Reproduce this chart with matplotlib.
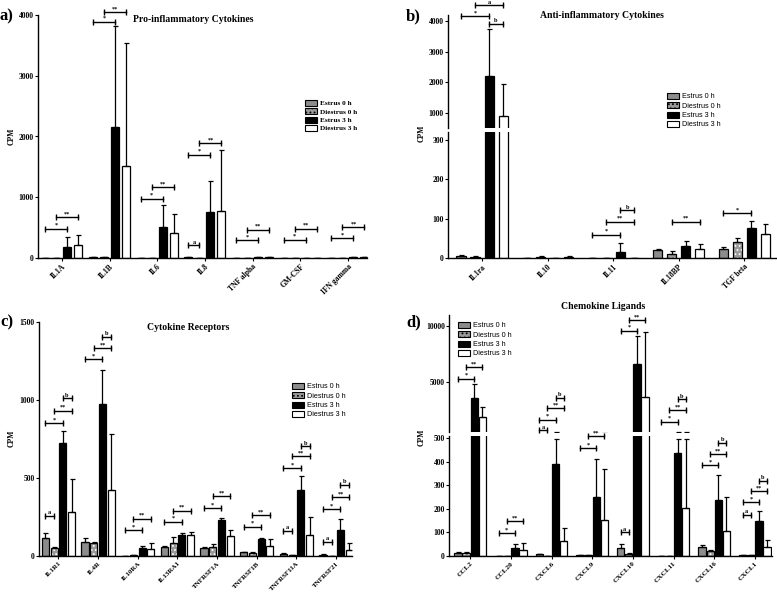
import matplotlib
matplotlib.use("Agg")
import matplotlib.pyplot as plt
from matplotlib.patches import Patch
import numpy as np

plt.rcParams['font.family'] = 'Liberation Serif'
plt.rcParams['font.weight'] = 'bold'
plt.rcParams['hatch.linewidth'] = 0.8

groups = ['Estrus 0 h', 'Diestrus 0 h', 'Estrus 3 h', 'Diestrus 3 h']

# a) Pro-inflammatory cytokines
a_genes = ['IL1A', 'IL1B', 'IL6', 'IL8', 'TNF alpha', 'GM-CSF', 'IFN gamma']
a_mean = [[5, 10, 0, 15, 0, 0, 0],
          [5, 10, 0, 0, 0, 0, 0],
          [181, 2160, 516, 758, 15, 6, 10],
          [209, 1516, 407, 780, 20, 6, 10]]
a_sd = [[0, 0, 0, 0, 0, 0, 0],
        [0, 0, 0, 0, 0, 0, 0],
        [165, 1660, 352, 506, 0, 0, 0],
        [176, 2028, 324, 1006, 0, 0, 0]]
a_sig = [(0, 0, 2, 484, '*'), (0, 1, 3, 670, '**'),
         (1, 0, 2, 3890, '*'), (1, 1, 3, 4050, '**'),
         (2, 0, 2, 978, '*'), (2, 1, 3, 1170, '**'),
         (3, 0, 1, 209, 'a'), (3, 0, 2, 1703, '*'), (3, 1, 3, 1885, '**'),
         (4, 0, 2, 291, '*'), (4, 1, 3, 467, '**'),
         (5, 0, 2, 302, '*'), (5, 1, 3, 484, '**'),
         (6, 0, 2, 324, '*'), (6, 1, 3, 505, '**')]

# b) Anti-inflammatory cytokines
b_genes = ['IL1ra', 'IL10', 'IL11', 'IL18BP', 'TGF beta']
b_mean = [[5, 1, 0, 20, 23],
          [3, 3, 0, 11, 41],
          [2197, 0.5, 15, 30, 75],
          [902, 3, 1, 22, 62]]
b_sd = [[2, 0, 0, 3, 5],
        [1, 1, 0, 7, 11],
        [1553, 0, 23, 12, 20],
        [1023, 1, 0, 14, 24]]
b_sig = [(0, 0, 2, 4160, '*'), (0, 1, 3, 4520, 'a'), (0, 2, 3, 3900, 'b'),
         (2, 0, 2, 59, '*'), (2, 1, 3, 92, '**'), (2, 2, 3, 121, 'b'),
         (3, 1, 3, 92, '**'),
         (4, 0, 2, 114, '*')]

# c) Cytokine receptors
c_genes = ['IL1R1', 'IL4R', 'IL10RA', 'IL13RA1', 'TNFRSF1A', 'TNFRSF1B',
           'TNFRSF11A', 'TNFRSF21']
c_mean = [[118, 92, 3, 60, 49, 24, 15, 8],
          [49, 81, 4, 81, 60, 21, 5, 3],
          [724, 974, 54, 133, 231, 111, 420, 167],
          [280, 426, 47, 135, 128, 66, 137, 36]]
c_sd = [[28, 26, 0, 6, 7, 4, 6, 2],
        [11, 9, 0, 39, 15, 3, 0, 0],
        [79, 221, 12, 17, 15, 7, 94, 73],
        [215, 358, 34, 21, 39, 41, 111, 45]]
c_sig = [(0, 0, 1, 257, 'a'), (0, 0, 2, 852, '*'), (0, 1, 3, 931, '**'), (0, 2, 3, 1011, 'b'),
         (1, 0, 2, 1263, '*'), (1, 1, 3, 1334, '**'), (1, 2, 3, 1405, 'b'),
         (2, 0, 2, 167, '*'), (2, 1, 3, 240, '**'),
         (3, 0, 2, 220, '*'), (3, 1, 3, 291, '**'),
         (4, 0, 2, 306, '*'), (4, 1, 3, 385, '**'),
         (5, 0, 2, 188, '*'), (5, 1, 3, 263, '**'),
         (6, 0, 1, 161, 'a'), (6, 0, 2, 563, '*'), (6, 1, 3, 638, '**'), (6, 2, 3, 702, 'b'),
         (7, 0, 1, 92, 'a'), (7, 0, 2, 300, '*'), (7, 1, 3, 377, '**'), (7, 2, 3, 456, 'b')]

# d) Chemokine ligands
d_genes = ['CCL2', 'CCL20', 'CXCL6', 'CXCL9', 'CXCL10', 'CXCL11', 'CXCL16', 'CXCL1']
d_mean = [[12, 0, 8, 5, 33, 0, 40, 5],
          [12, 0, 1, 5, 10, 0, 21, 3],
          [3580, 35, 392, 249, 6600, 436, 236, 147],
          [1805, 25, 62, 154, 3670, 205, 108, 40]]
d_sd = [[3, 0, 0, 0, 18, 0, 7, 0],
        [3, 0, 0, 0, 3, 0, 3, 0],
        [1240, 17, 106, 165, 2510, 62, 107, 44],
        [945, 30, 58, 216, 5830, 293, 143, 27]]
d_sig = [(0, 0, 2, 5300, '*'), (0, 1, 3, 6300, '**'),
         (1, 0, 2, 97, '*'), (1, 1, 3, 147, '**'),
         (2, 0, 1, 640, 'a'), (2, 0, 2, 1600, '*'), (2, 1, 3, 2630, '**'), (2, 2, 3, 3580, 'b'),
         (3, 0, 2, 459, '*'), (3, 1, 3, 510, '**'),
         (4, 0, 1, 100, 'a'), (4, 0, 2, 9590, '*'), (4, 1, 3, 10540, '**'),
         (5, 0, 2, 1420, '*'), (5, 1, 3, 2455, '**'), (5, 2, 3, 3430, 'b'),
         (6, 0, 2, 385, '*'), (6, 1, 3, 434, '**'), (6, 2, 3, 481, 'b'),
         (7, 0, 1, 175, 'a'), (7, 0, 2, 229, '*'), (7, 1, 3, 275, '**'), (7, 2, 3, 318, 'b')]

W, H = 777, 593
fig = plt.figure(figsize=(W / 100, H / 100), dpi=100)


def add_ax(l, t, r, b):
    return fig.add_axes([l / W, 1 - b / H, (r - l) / W, (b - t) / H])


def style_ax(ax, xlim, ylim, yticks, bottom=True):
    ax.set_xlim(*xlim)
    ax.set_ylim(*ylim)
    ax.set_yticks(yticks)
    for s in ['top', 'right']:
        ax.spines[s].set_visible(False)
    ax.spines['left'].set_linewidth(1)
    ax.spines['bottom'].set_linewidth(1)
    ax.tick_params(axis='y', labelsize=5.5, width=0.8, length=2.5, pad=0.5)
    ax.tick_params(axis='x', labelsize=5.5, width=0.8, length=2.5, pad=1)
    if not bottom:
        ax.spines['bottom'].set_visible(False)
        ax.set_xticks([])


def draw_bars(ax, mean, sd, width, step):
    n = len(mean[0])
    centers = np.arange(n)
    for k in range(4):
        x = centers + (k - 1.5) * step
        h = np.array(mean[k], dtype=float)
        if k == 0:
            ax.bar(x, h, width, color='#8c8c8c', edgecolor='black', linewidth=0.9)
        elif k == 1:
            ax.bar(x, h, width, color='#9a9a9a', edgecolor='white', hatch='....', linewidth=0)
            ax.bar(x, h, width, fill=False, edgecolor='black', linewidth=0.9)
        elif k == 2:
            ax.bar(x, h, width, color='black', edgecolor='black', linewidth=0.9)
        else:
            ax.bar(x, h, width, color='white', edgecolor='black', linewidth=0.9)
        ax.errorbar(x, h, yerr=[np.zeros(n), sd[k]], fmt='none', ecolor='black',
                    elinewidth=0.9, capsize=1.8, capthick=0.9)


def sig(ax, x1, x2, y, txt):
    ax.plot([x1, x2], [y, y], color='black', lw=1, marker='|', ms=4, mew=1,
            clip_on=False)
    ax.annotate(txt, ((x1 + x2) / 2, y), xytext=(0, 0.5), textcoords='offset points',
                ha='center', va='bottom', fontsize=4.5, annotation_clip=False)


def draw_sig(axes, sigs, step, split=None):
    for g, i, j, y, txt in sigs:
        x1 = g + (i - 1.5) * step
        x2 = g + (j - 1.5) * step
        if split is None:
            ax = axes[0]
        else:
            ax = axes[0] if y > split else axes[1]
        sig(ax, x1, x2, y, txt)


def set_xlabels(ax, genes, size=5.5):
    ax.set_xticks(np.arange(len(genes)))
    ax.set_xticklabels(genes, rotation=45, ha='right', rotation_mode='anchor',
                       fontsize=size)


def legend(ax, x, y, family):
    handles = [Patch(facecolor='#8c8c8c', edgecolor='black', linewidth=0.8),
               Patch(facecolor='#9a9a9a', edgecolor='black', hatch='....', linewidth=0.8),
               Patch(facecolor='black', edgecolor='black', linewidth=0.8),
               Patch(facecolor='white', edgecolor='black', linewidth=0.8)]
    ax.legend(handles, groups, loc='upper left', bbox_to_anchor=(x / W, 1 - y / H),
              bbox_transform=fig.transFigure, frameon=False,
              prop={'family': family, 'size': 5.2,
                    'weight': 'bold' if family == 'Liberation Serif' else 'normal'},
              handlelength=1.6, handleheight=0.9, handletextpad=0.5,
              labelspacing=0.25, borderpad=0, borderaxespad=0)


# ---- a)
ax_a = add_ax(38, 15, 367, 258)
draw_bars(ax_a, a_mean, a_sd, 0.17, 0.23)
style_ax(ax_a, (-0.5, 6.4), (0, 4000), [0, 1000, 2000, 3000, 4000])
set_xlabels(ax_a, a_genes)
draw_sig([ax_a], a_sig, 0.23)
legend(ax_a, 305, 100, 'Liberation Serif')
fig.text(193 / W, 1 - 20 / H, 'Pro-inflammatory Cytokines', ha='center', va='center', fontsize=7)

# ---- b)
ax_bu = add_ax(448, 15, 777, 128)
ax_bl = add_ax(448, 132, 777, 258)
for ax in (ax_bu, ax_bl):
    draw_bars(ax, b_mean, b_sd, 0.14, 0.214)
style_ax(ax_bu, (-0.52, 4.5), (500, 4200), [1000, 2000, 3000, 4000], bottom=False)
style_ax(ax_bl, (-0.52, 4.5), (0, 320), [0, 100, 200, 300])
set_xlabels(ax_bl, b_genes)
draw_sig([ax_bu, ax_bl], b_sig, 0.214, split=320)
legend(ax_bu, 667, 93, 'Liberation Sans')
fig.text(602 / W, 1 - 16 / H, 'Anti-inflammatory Cytokines', ha='center', va='center', fontsize=7)

# ---- c)
ax_c = add_ax(39, 322, 352, 556)
draw_bars(ax_c, c_mean, c_sd, 0.18, 0.22)
style_ax(ax_c, (-0.49, 7.4), (0, 1500), [0, 500, 1000, 1500])
set_xlabels(ax_c, c_genes, 5)
draw_sig([ax_c], c_sig, 0.22)
legend(ax_c, 292, 383, 'Liberation Sans')
fig.text(188 / W, 1 - 328 / H, 'Cytokine Receptors', ha='center', va='center', fontsize=7)

# ---- d)
ax_du = add_ax(449, 315, 772, 432)
ax_dl = add_ax(449, 436, 772, 556)
for ax in (ax_du, ax_dl):
    draw_bars(ax, d_mean, d_sd, 0.18, 0.2)
style_ax(ax_du, (-0.52, 7.42), (500, 11000), [5000, 10000], bottom=False)
style_ax(ax_dl, (-0.52, 7.42), (0, 510), [0, 100, 200, 300, 400, 500])
set_xlabels(ax_dl, d_genes, 5.2)
draw_sig([ax_du, ax_dl], d_sig, 0.2, split=510)
legend(ax_du, 458, 322, 'Liberation Sans')
fig.text(603 / W, 1 - 306 / H, 'Chemokine Ligands', ha='center', va='center', fontsize=7)

# panel letters and y labels
for txt, x, y in [('a)', 0, 16), ('b)', 406, 16), ('c)', 0, 322), ('d)', 406, 322)]:
    fig.text(x / W, 1 - y / H, txt, ha='left', va='center', fontsize=12)
for x, y in [(12, 136), (422, 133), (12, 438), (422, 437)]:
    fig.text(x / W, 1 - y / H, 'CPM', ha='center', va='center', rotation=90, fontsize=5.5)

fig.savefig('out.png', dpi=100)
